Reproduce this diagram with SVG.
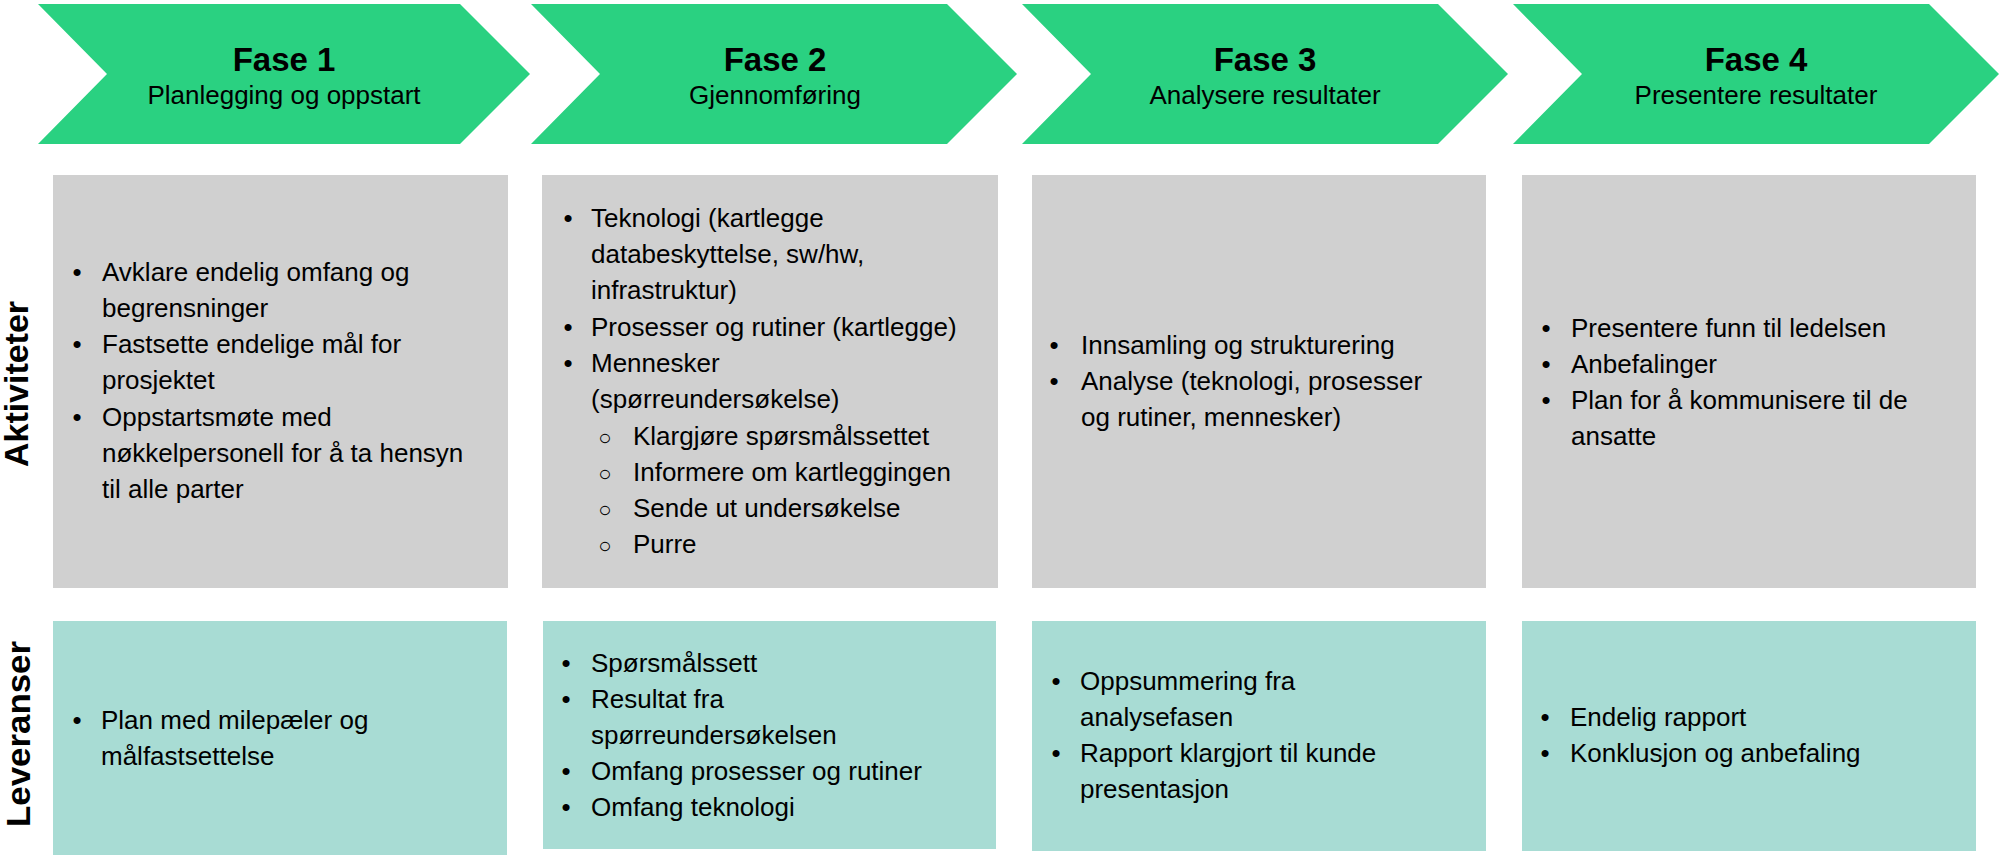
<svg xmlns="http://www.w3.org/2000/svg" width="2000" height="858" viewBox="0 0 2000 858">
<style>
text{font-family:"Liberation Sans",Arial,sans-serif;fill:#000}
.chev{fill:#2AD181}
.act{fill:#D0D0D0}
.del{fill:#A8DCD4}
.t{font-size:26px}
.b{font-size:26px;text-anchor:middle}
.sb{font-size:22px;text-anchor:middle}
.h{font-size:33px;font-weight:bold;text-anchor:middle}
.s{font-size:26px;text-anchor:middle}
.side{font-size:34px;font-weight:bold;text-anchor:middle}
</style>
<rect width="2000" height="858" fill="#fff"/>

<g id="phase1">
<polygon class="chev" points="38,4 460,4 530,74 460,144 38,144 107,74"/>
<text class="h" x="284" y="71">Fase 1</text>
<text class="s" x="284" y="104">Planlegging og oppstart</text>
</g>
<g id="phase2">
<polygon class="chev" points="531,4 947,4 1017,74 947,144 531,144 600,74"/>
<text class="h" x="775" y="71">Fase 2</text>
<text class="s" x="775" y="104">Gjennomføring</text>
</g>
<g id="phase3">
<polygon class="chev" points="1022,4 1438,4 1508,74 1438,144 1022,144 1091,74"/>
<text class="h" x="1265" y="71">Fase 3</text>
<text class="s" x="1265" y="104">Analysere resultater</text>
</g>
<g id="phase4">
<polygon class="chev" points="1513,4 1929,4 1999,74 1929,144 1513,144 1582,74"/>
<text class="h" x="1756" y="71">Fase 4</text>
<text class="s" x="1756" y="104">Presentere resultater</text>
</g>

<g id="label-aktiviteter">
<text class="side" transform="translate(28,384) rotate(-90)" textLength="166" lengthAdjust="spacingAndGlyphs">Aktiviteter</text>
</g>
<g id="label-leveranser">
<text class="side" transform="translate(30,734) rotate(-90)" textLength="186" lengthAdjust="spacingAndGlyphs">Leveranser</text>
</g>

<g id="act1">
<rect class="act" x="53" y="175" width="455" height="413"/>
<text class="b" x="77" y="281">•</text>
<text class="t" x="102" y="281">Avklare endelig omfang og</text>
<text class="t" x="102" y="317">begrensninger</text>
<text class="b" x="77" y="353">•</text>
<text class="t" x="102" y="353">Fastsette endelige mål for</text>
<text class="t" x="102" y="389">prosjektet</text>
<text class="b" x="77" y="426">•</text>
<text class="t" x="102" y="426">Oppstartsmøte med</text>
<text class="t" x="102" y="462">nøkkelpersonell for å ta hensyn</text>
<text class="t" x="102" y="498">til alle parter</text>
</g>

<g id="act2">
<rect class="act" x="542" y="175" width="456" height="413"/>
<text class="b" x="568" y="227">•</text>
<text class="t" x="591" y="227">Teknologi (kartlegge</text>
<text class="t" x="591" y="263">databeskyttelse, sw/hw,</text>
<text class="t" x="591" y="299">infrastruktur)</text>
<text class="b" x="568" y="336">•</text>
<text class="t" x="591" y="336">Prosesser og rutiner (kartlegge)</text>
<text class="b" x="568" y="372">•</text>
<text class="t" x="591" y="372">Mennesker</text>
<text class="t" x="591" y="408">(spørreundersøkelse)</text>
<text class="sb" x="605" y="445">○</text>
<text class="t" x="633" y="445">Klargjøre spørsmålssettet</text>
<text class="sb" x="605" y="481">○</text>
<text class="t" x="633" y="481">Informere om kartleggingen</text>
<text class="sb" x="605" y="517">○</text>
<text class="t" x="633" y="517">Sende ut undersøkelse</text>
<text class="sb" x="605" y="553">○</text>
<text class="t" x="633" y="553">Purre</text>
</g>

<g id="act3">
<rect class="act" x="1032" y="175" width="454" height="413"/>
<text class="b" x="1054" y="354">•</text>
<text class="t" x="1081" y="354">Innsamling og strukturering</text>
<text class="b" x="1054" y="390">•</text>
<text class="t" x="1081" y="390">Analyse (teknologi, prosesser</text>
<text class="t" x="1081" y="426">og rutiner, mennesker)</text>
</g>

<g id="act4">
<rect class="act" x="1522" y="175" width="454" height="413"/>
<text class="b" x="1546" y="337">•</text>
<text class="t" x="1571" y="337">Presentere funn til ledelsen</text>
<text class="b" x="1546" y="373">•</text>
<text class="t" x="1571" y="373">Anbefalinger</text>
<text class="b" x="1546" y="409">•</text>
<text class="t" x="1571" y="409">Plan for å kommunisere til de</text>
<text class="t" x="1571" y="445">ansatte</text>
</g>

<g id="del1">
<rect class="del" x="53" y="621" width="454" height="234"/>
<text class="b" x="77" y="729">•</text>
<text class="t" x="101" y="729">Plan med milepæler og</text>
<text class="t" x="101" y="765">målfastsettelse</text>
</g>

<g id="del2">
<rect class="del" x="543" y="621" width="453" height="228"/>
<text class="b" x="566" y="672">•</text>
<text class="t" x="591" y="672">Spørsmålssett</text>
<text class="b" x="566" y="708">•</text>
<text class="t" x="591" y="708">Resultat fra</text>
<text class="t" x="591" y="744">spørreundersøkelsen</text>
<text class="b" x="566" y="780">•</text>
<text class="t" x="591" y="780">Omfang prosesser og rutiner</text>
<text class="b" x="566" y="816">•</text>
<text class="t" x="591" y="816">Omfang teknologi</text>
</g>

<g id="del3">
<rect class="del" x="1032" y="621" width="454" height="230"/>
<text class="b" x="1056" y="690">•</text>
<text class="t" x="1080" y="690">Oppsummering fra</text>
<text class="t" x="1080" y="726">analysefasen</text>
<text class="b" x="1056" y="762">•</text>
<text class="t" x="1080" y="762">Rapport klargjort til kunde</text>
<text class="t" x="1080" y="798">presentasjon</text>
</g>

<g id="del4">
<rect class="del" x="1522" y="621" width="454" height="230"/>
<text class="b" x="1545" y="726">•</text>
<text class="t" x="1570" y="726">Endelig rapport</text>
<text class="b" x="1545" y="762">•</text>
<text class="t" x="1570" y="762">Konklusjon og anbefaling</text>
</g>

<g id="connectors"></g>
</svg>
